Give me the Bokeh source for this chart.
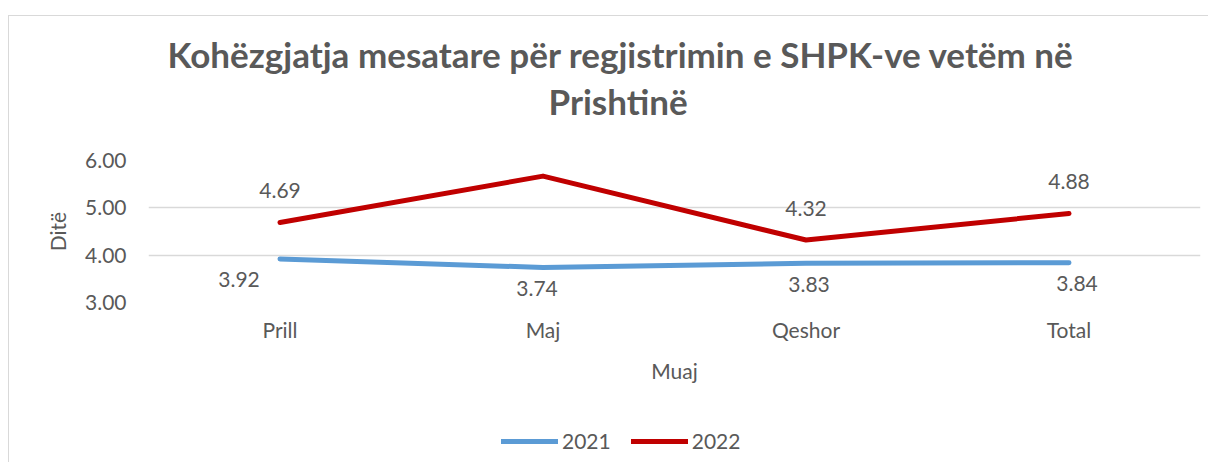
from bokeh.plotting import figure
from bokeh.layouts import column
from bokeh.models import ColumnDataSource, FactorRange, Range1d, LabelSet, Legend, LegendItem, Title, CustomJSTickFormatter
from bokeh.core.properties import value
from bokeh.embed import file_html
from bokeh.resources import INLINE

months = ["Prill", "Maj", "Qeshor", "Total"]
y2021 = [3.92, 3.74, 3.83, 3.84]
y2022 = [4.69, 5.67, 4.32, 4.88]
series_names = ["2021", "2022"]
title_lines = ["Kohëzgjatja mesatare për regjistrimin e SHPK-ve vetëm në", "Prishtinë"]

FONT = "Lato"
TXT = "#595959"
BLUE = "#5b9bd5"
RED = "#c00000"
BORDER = "1px solid #d9d9d9"

lbl_dx_2021 = [-41, -6, 3, 8]

src = ColumnDataSource(dict(
    m=months, a=y2021, b=y2022,
    la=[f"{v:.2f}" for v in y2021], lb=[f"{v:.2f}" for v in y2022],
    dx=lbl_dx_2021,
))

p = figure(width=1200, height=405, x_range=FactorRange(*months, range_padding=0),
           y_range=Range1d(3, 6), output_backend="svg", toolbar_location=None,
           min_border_left=139, min_border_right=9, min_border_bottom=119, min_border_top=144,
           title=None, styles={"border-top": BORDER, "border-left": BORDER})

t2 = Title(text=title_lines[1], align="left", text_font=FONT, text_font_size="35px",
           text_font_style="bold", text_color=TXT, offset=400, standoff=77)
t1 = Title(text=title_lines[0], align="left", text_font=FONT, text_font_size="35px",
           text_font_style="bold", text_color=TXT, offset=19, standoff=-71)
p.add_layout(t2, "above")
p.add_layout(t1, "above")

p.outline_line_color = None
p.xgrid.grid_line_color = None
p.ygrid.grid_line_color = "#d9d9d9"
p.ygrid.grid_line_width = 1.5
p.yaxis.ticker = [3, 4, 5, 6]
p.yaxis.formatter = CustomJSTickFormatter(code="return tick.toFixed(2)")

for ax in (p.xaxis, p.yaxis):
    ax.axis_line_color = None
    ax.major_tick_line_color = None
    ax.minor_tick_line_color = None
    ax.major_label_text_font = FONT
    ax.major_label_text_font_size = "21px"
    ax.major_label_text_color = TXT
    ax.axis_label_text_font = FONT
    ax.axis_label_text_font_size = "21px"
    ax.axis_label_text_color = TXT
    ax.axis_label_text_font_style = "normal"

p.yaxis.axis_label = "Ditë"
p.yaxis.major_label_standoff = 16
p.yaxis.axis_label_standoff = 12
p.xaxis.axis_label = "Muaj"
p.xaxis.major_label_standoff = 8
p.xaxis.axis_label_standoff = 13

r1 = p.line("m", "a", source=src, line_color=BLUE, line_width=5, line_cap="round", line_join="round")
r2 = p.line("m", "b", source=src, line_color=RED, line_width=5, line_cap="round", line_join="round")

p.add_layout(LabelSet(x="m", y="a", text="la", source=src, y_offset=-21, x_offset="dx",
                      text_align="center", text_baseline="middle", text_font=value(FONT),
                      text_font_size=value("21px"), text_color=value(TXT)))
p.add_layout(LabelSet(x="m", y="b", text="lb", source=src, y_offset=32,
                      text_align="center", text_baseline="middle", text_font=value(FONT),
                      text_font_size=value("21px"), text_color=value(TXT)))

# legend strip below the chart (its lines lie outside its own y range, so only the key shows)
pl = figure(width=1200, height=42, x_range=FactorRange(*months, range_padding=0),
            y_range=Range1d(0, 1), output_backend="svg", toolbar_location=None,
            min_border=0, x_axis_location=None, y_axis_location=None,
            styles={"border-left": BORDER})
pl.grid.visible = False
pl.outline_line_color = None
l1 = pl.line("m", "a", source=src, line_color=BLUE, line_width=5, line_cap="round")
l2 = pl.line("m", "b", source=src, line_color=RED, line_width=5, line_cap="round")
legend = Legend(items=[LegendItem(label=series_names[0], renderers=[l1]),
                       LegendItem(label=series_names[1], renderers=[l2])],
                orientation="horizontal", location=(353, 9), glyph_width=57, glyph_height=20,
                label_text_font=FONT, label_text_font_size="21px", label_text_color=TXT,
                label_standoff=4, spacing=20, padding=0, margin=0,
                border_line_color=None, background_fill_alpha=0)
pl.add_layout(legend, "center")

layout = column(p, pl, spacing=0, margin=(15, 0, 0, 8))
open("out.html", "w").write(file_html(layout, INLINE))
